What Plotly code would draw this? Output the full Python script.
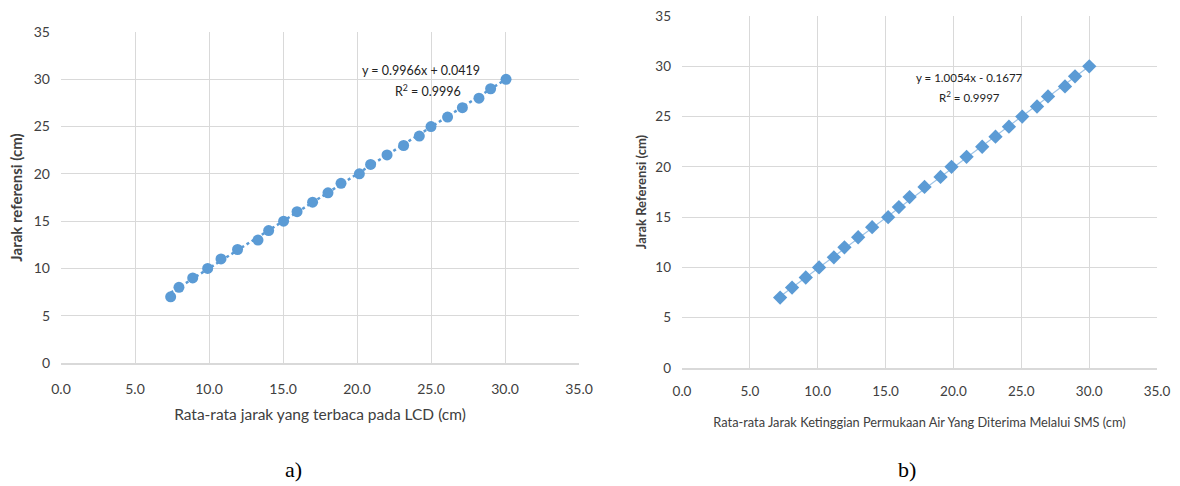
import numpy as np
import plotly.graph_objects as go

# ---- data ----
ref_a = [7, 8, 9, 10, 11, 12, 13, 14, 15, 16, 17, 18, 19, 20, 21, 22, 23, 24, 25, 26, 27, 28, 29, 30]
lcd_a = [7.41, 7.97, 8.90, 9.91, 10.81, 11.93, 13.31, 14.03, 15.04, 15.95, 17.00, 18.04,
         18.92, 20.16, 20.92, 22.03, 23.15, 24.21, 25.00, 26.12, 27.12, 28.24, 29.03, 30.07]
ref_b = [7, 8, 9, 10, 11, 12, 13, 14, 15, 16, 17, 18, 19, 20, 21, 22, 23, 24, 25, 26, 27, 28, 29, 30]
sms_b = [7.23, 8.11, 9.12, 10.10, 11.19, 11.97, 12.98, 14.01, 15.19, 15.98, 16.77, 17.87,
         19.05, 19.86, 20.97, 22.12, 23.10, 24.09, 25.07, 26.16, 26.97, 28.22, 28.96, 30.01]
fit_a = (0.9966, 0.0419)
fit_b = (1.0054, -0.1677)
x_ticks = [0, 5, 10, 15, 20, 25, 30, 35]
x_tick_text = ["0.0", "5.0", "10.0", "15.0", "20.0", "25.0", "30.0", "35.0"]
y_ticks = [0, 5, 10, 15, 20, 25, 30, 35]

BLUE = "#5b9bd5"
GRID = "#d9d9d9"
TXT = "#404040"
FONT = "Lato"

fig = go.Figure()

# chart a
xa = np.array([min(lcd_a), max(lcd_a)])
fig.add_trace(go.Scatter(x=xa, y=fit_a[0] * xa + fit_a[1], mode="lines",
                         line=dict(color=BLUE, width=2.5, dash="dot"),
                         xaxis="x", yaxis="y", showlegend=False, hoverinfo="skip"))
fig.add_trace(go.Scatter(x=lcd_a, y=ref_a, mode="markers",
                         marker=dict(symbol="circle", size=11, color=BLUE),
                         xaxis="x", yaxis="y", showlegend=False))

# chart b
xb = np.array([min(sms_b), max(sms_b)])
fig.add_trace(go.Scatter(x=xb, y=fit_b[0] * xb + fit_b[1], mode="lines",
                         line=dict(color="#9dc3e6", width=1.2),
                         xaxis="x2", yaxis="y2", showlegend=False, hoverinfo="skip"))
fig.add_trace(go.Scatter(x=sms_b, y=ref_b, mode="markers",
                         marker=dict(symbol="diamond", size=11, color=BLUE),
                         xaxis="x2", yaxis="y2", showlegend=False))

W, H = 1180, 486

def px_x(p):
    return p / W

def px_y(p):
    return (H - p) / H

common_x = dict(range=[0, 35], tickvals=x_ticks, ticktext=x_tick_text, automargin=False,
                showgrid=True, gridcolor=GRID, gridwidth=1, zeroline=False,
                showline=True, linecolor=GRID, linewidth=1.5, ticks="",
                tickfont=dict(family=FONT, size=14, color=TXT), fixedrange=True)
common_y = dict(range=[0, 35], tickvals=y_ticks, automargin=False,
                showgrid=True, gridcolor=GRID, gridwidth=1, zeroline=False,
                showline=False, ticks="",
                tickfont=dict(family=FONT, size=14, color=TXT), fixedrange=True)

fig.update_layout(
    width=W, height=H,
    margin=dict(l=0, r=0, t=0, b=0, autoexpand=False),
    paper_bgcolor="white", plot_bgcolor="white",
    xaxis=dict(common_x, domain=[px_x(61), px_x(579)], anchor="y", ticklabelstandoff=12,
               title=dict(text="Rata-rata jarak yang terbaca pada LCD (cm)",
                          font=dict(family=FONT, size=15.5, color=TXT), standoff=14)),
    yaxis=dict(common_y, domain=[px_y(363), px_y(32)], anchor="x", ticklabelstandoff=10,
               title=dict(text="<b>Jarak referensi (cm)</b>",
                          font=dict(family=FONT, size=15, color=TXT), standoff=7)),
    xaxis2=dict(common_x, domain=[px_x(682), px_x(1157)], anchor="y2", ticklabelstandoff=10,
                tickfont=dict(family=FONT, size=13.5, color=TXT),
                title=dict(text="Rata-rata Jarak Ketinggian Permukaan Air Yang Diterima Melalui SMS (cm)",
                           font=dict(family=FONT, size=12.8, color=TXT), standoff=20)),
    yaxis2=dict(common_y, domain=[px_y(368), px_y(16)], anchor="x2", ticklabelstandoff=10,
                tickfont=dict(family=FONT, size=13.5, color=TXT),
                title=dict(text="<b>Jarak Referensi (cm)</b>",
                           font=dict(family=FONT, size=13, color=TXT), standoff=5)),
    annotations=[
        dict(text="y = 0.9966x + 0.0419", x=421, y=71, font=dict(family=FONT, size=12.5, color="#222")),
        dict(text="R<sup>2</sup> = 0.9996", x=428, y=91, font=dict(family=FONT, size=12.5, color="#222")),
        dict(text="y = 1.0054x - 0.1677", x=969, y=77, font=dict(family=FONT, size=11.5, color="#222")),
        dict(text="R<sup>2</sup> = 0.9997", x=969, y=96, font=dict(family=FONT, size=11.5, color="#222")),
        dict(text="a)", x=293, y=469, font=dict(family="Liberation Serif", size=22, color="#000")),
        dict(text="b)", x=907, y=469, font=dict(family="Liberation Serif", size=22, color="#000")),
    ],
)

# convert pixel annotation positions into paper coordinates
for ann in fig.layout.annotations:
    ann.x = px_x(ann.x)
    ann.y = px_y(ann.y)
    ann.xref = "paper"
    ann.yref = "paper"
    ann.xanchor = "center"
    ann.yanchor = "middle"
    ann.showarrow = False

# remove the default page margin so the figure fills the window exactly
fig.write_html("out.html", config={"displayModeBar": False},
               post_script="document.body.style.margin='0';document.body.style.overflow='hidden';")
